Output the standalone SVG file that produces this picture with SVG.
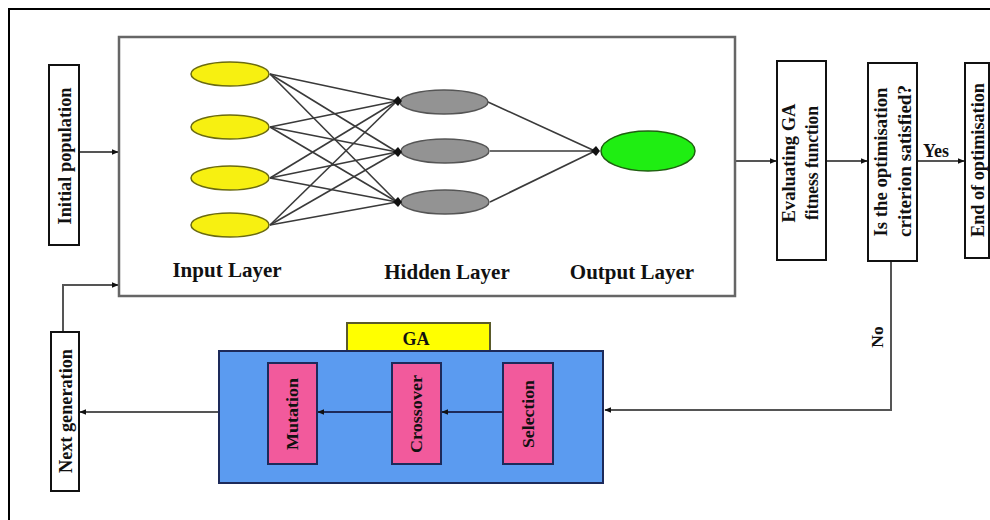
<svg xmlns="http://www.w3.org/2000/svg" width="990" height="520" viewBox="0 0 990 520">
  <style>
    .lbl { font-family: "Liberation Serif", "Times New Roman", serif; font-weight: bold; fill: #111; }
    .box { fill: #fff; stroke: #111; stroke-width: 2; }
    .conn { fill: none; stroke: #555; stroke-width: 2; }
    .syn { stroke: #3a3a3a; stroke-width: 1.6; }
    .in { fill: #f7f011; stroke: #6b6b10; stroke-width: 1.5; }
    .hid { fill: #939393; stroke: #555; stroke-width: 1.5; }
    .op { fill: #f25a9c; stroke: #1d2a5a; stroke-width: 2; }
  </style>
  <defs>
    <marker id="arr" viewBox="0 0 10 10" refX="9" refY="5" markerWidth="7" markerHeight="7" markerUnits="userSpaceOnUse" orient="auto">
      <path d="M0,1 L10,5 L0,9 z" fill="#111"/>
    </marker>
  </defs>

  <rect width="990" height="520" fill="#fff"/>
  <!-- outer frame -->
  <rect x="9" y="9" width="995" height="525" fill="none" stroke="#000" stroke-width="2"/>

  <!-- connectors -->
  <g id="connectors">
    <line class="conn" x1="79" y1="152" x2="118" y2="152" marker-end="url(#arr)"/>
    <polyline class="conn" points="63,332 63,285 118,285" marker-end="url(#arr)"/>
    <line class="conn" x1="736" y1="161" x2="776" y2="161" marker-end="url(#arr)"/>
    <line class="conn" x1="826" y1="161" x2="867" y2="161" marker-end="url(#arr)"/>
    <line class="conn" x1="917" y1="161" x2="964" y2="161" marker-end="url(#arr)"/>
    <polyline class="conn" points="891,261 891,410 605,410" marker-end="url(#arr)"/>
    <line class="conn" x1="218" y1="412" x2="80" y2="412" marker-end="url(#arr)"/>
    <text class="lbl" x="936" y="157" font-size="18" text-anchor="middle">Yes</text>
    <text class="lbl" font-size="17.5" text-anchor="middle" transform="translate(883,337) rotate(-90)">No</text>
  </g>

  <g id="initial-population">
    <rect class="box" x="49" y="65" width="30" height="180"/>
    <text class="lbl" font-size="19" text-anchor="middle" textLength="137" lengthAdjust="spacingAndGlyphs" transform="translate(71,156) rotate(-90)">Initial population</text>
  </g>

  <g id="neural-network">
    <rect x="119" y="37" width="616" height="259" fill="#fff" stroke="#666" stroke-width="2.5"/>
    <!-- input to hidden weights, then hidden to output -->
    <g class="syn">
      <line x1="270" y1="74" x2="397" y2="101"/>
      <line x1="270" y1="74" x2="397" y2="152"/>
      <line x1="270" y1="74" x2="397" y2="202"/>
      <line x1="270" y1="127" x2="397" y2="101"/>
      <line x1="270" y1="127" x2="397" y2="152"/>
      <line x1="270" y1="127" x2="397" y2="202"/>
      <line x1="270" y1="178" x2="397" y2="101"/>
      <line x1="270" y1="178" x2="397" y2="152"/>
      <line x1="270" y1="178" x2="397" y2="202"/>
      <line x1="270" y1="225" x2="397" y2="101"/>
      <line x1="270" y1="225" x2="397" y2="152"/>
      <line x1="270" y1="225" x2="397" y2="202"/>
      <line x1="488" y1="102" x2="595" y2="151"/>
      <line x1="490" y1="151" x2="595" y2="151"/>
      <line x1="490" y1="202" x2="595" y2="151"/>
    </g>
    <ellipse class="in" cx="230" cy="74" rx="39" ry="12"/>
    <ellipse class="in" cx="230" cy="127" rx="39" ry="12"/>
    <ellipse class="in" cx="230" cy="178" rx="39" ry="12"/>
    <ellipse class="in" cx="230" cy="225" rx="39" ry="12"/>
    <ellipse class="hid" cx="444" cy="102" rx="44" ry="12"/>
    <ellipse class="hid" cx="445" cy="151" rx="44" ry="12"/>
    <ellipse class="hid" cx="445" cy="202" rx="44" ry="12"/>
    <ellipse cx="648" cy="151" rx="47" ry="20" fill="#1fee12" stroke="#1f5f10" stroke-width="1.5"/>
    <g fill="#111">
      <path d="M393,101 L398,96 L402,101 L398,106 z"/>
      <path d="M393,152 L398,147 L402,152 L398,157 z"/>
      <path d="M393,202 L398,197 L402,202 L398,207 z"/>
      <path d="M591,151 L596,146 L600,151 L596,156 z"/>
    </g>
    <text class="lbl" x="227" y="277" font-size="21" text-anchor="middle">Input Layer</text>
    <text class="lbl" x="447" y="279" font-size="21" text-anchor="middle">Hidden Layer</text>
    <text class="lbl" x="632" y="279" font-size="21" text-anchor="middle">Output Layer</text>
  </g>

  <g id="fitness">
    <rect class="box" x="777" y="61" width="49" height="199"/>
    <text class="lbl" font-size="19" text-anchor="middle" textLength="119" lengthAdjust="spacingAndGlyphs" transform="translate(795,163) rotate(-90)">Evaluating GA</text>
    <text class="lbl" font-size="19" text-anchor="middle" textLength="114" lengthAdjust="spacingAndGlyphs" transform="translate(818,163) rotate(-90)">fitness function</text>
  </g>

  <g id="criterion">
    <rect class="box" x="868" y="63" width="49" height="198"/>
    <text class="lbl" font-size="19" text-anchor="middle" textLength="149" lengthAdjust="spacingAndGlyphs" transform="translate(887,162) rotate(-90)">Is the optimisation</text>
    <text class="lbl" font-size="19" text-anchor="middle" textLength="152" lengthAdjust="spacingAndGlyphs" transform="translate(911,161) rotate(-90)">criterion satisfied?</text>
  </g>

  <g id="end">
    <rect class="box" x="965" y="63" width="24" height="195"/>
    <text class="lbl" font-size="19" text-anchor="middle" textLength="154" lengthAdjust="spacingAndGlyphs" transform="translate(984,160) rotate(-90)">End of optimisation</text>
  </g>

  <g id="next-generation">
    <rect class="box" x="51" y="332" width="28" height="159"/>
    <text class="lbl" font-size="19" text-anchor="middle" textLength="124" lengthAdjust="spacingAndGlyphs" transform="translate(72,411) rotate(-90)">Next generation</text>
  </g>

  <g id="ga">
    <rect x="347" y="323" width="143" height="30" fill="#ffff00" stroke="#5a5a2a" stroke-width="2"/>
    <text class="lbl" x="416" y="345" font-size="18" text-anchor="middle">GA</text>
    <rect x="219" y="351" width="384" height="132" fill="#5b9bf0" stroke="#1d2a5a" stroke-width="2"/>
    <line x1="503" y1="412" x2="442" y2="412" stroke="#1d2a5a" stroke-width="2" marker-end="url(#arr)"/>
    <line x1="392" y1="412" x2="318" y2="412" stroke="#1d2a5a" stroke-width="2" marker-end="url(#arr)"/>
    <g id="mutation">
      <rect class="op" x="268" y="363" width="49" height="101"/>
      <text class="lbl" font-size="16.5" text-anchor="middle" textLength="72" lengthAdjust="spacingAndGlyphs" transform="translate(298,414) rotate(-90)">Mutation</text>
    </g>
    <g id="crossover">
      <rect class="op" x="392" y="363" width="49" height="101"/>
      <text class="lbl" font-size="16.5" text-anchor="middle" textLength="78" lengthAdjust="spacingAndGlyphs" transform="translate(422,414) rotate(-90)">Crossover</text>
    </g>
    <g id="selection">
      <rect class="op" x="503" y="363" width="50" height="101"/>
      <text class="lbl" font-size="16.5" text-anchor="middle" textLength="68" lengthAdjust="spacingAndGlyphs" transform="translate(534,414) rotate(-90)">Selection</text>
    </g>
  </g>
</svg>
